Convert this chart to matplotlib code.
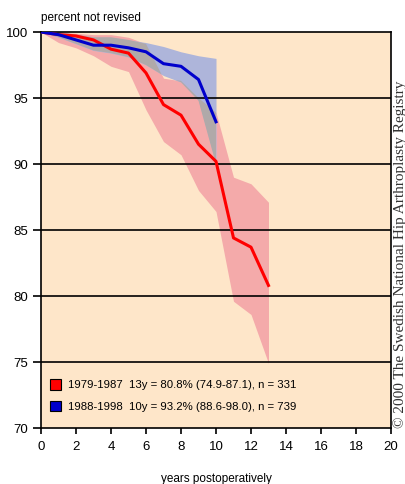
import matplotlib
matplotlib.use("Agg")
import matplotlib.pyplot as plt
from matplotlib.patches import Patch
import numpy as np

plt.rcParams["font.family"] = ["Liberation Sans", "DejaVu Sans"]

# data
years_a = [0, 1, 2, 3, 4, 5, 6, 7, 8, 9, 10, 11, 12, 13]
surv_a = [100, 99.8, 99.7, 99.4, 98.7, 98.4, 96.9, 94.5, 93.7, 91.5, 90.2, 84.4, 83.7, 80.8]
lo_a = [100, 99.2, 98.8, 98.2, 97.4, 97.0, 94.1, 91.7, 90.7, 88.0, 86.4, 79.6, 78.6, 74.9]
hi_a = [100, 100, 99.9, 99.8, 99.8, 99.6, 99.1, 96.5, 96.3, 95.0, 93.9, 89.0, 88.5, 87.1]

years_b = [0, 1, 2, 3, 4, 5, 6, 7, 8, 9, 10]
surv_b = [100, 99.8, 99.4, 99.0, 99.0, 98.8, 98.5, 97.6, 97.4, 96.4, 93.2]
lo_b = [100, 99.6, 99.1, 98.6, 98.4, 98.1, 97.5, 96.7, 96.2, 94.8, 90.0]
hi_b = [100, 100, 99.8, 99.6, 99.6, 99.4, 99.2, 98.9, 98.5, 98.2, 98.0]

labels = ["1979-1987  13y = 80.8% (74.9-87.1), n = 331",
          "1988-1998  10y = 93.2% (88.6-98.0), n = 739"]

peach = "#fee6c9"
pink = "#f4aaaa"
lblue = "#aeb5da"
grey = "#b0a9a9"

fig = plt.figure(figsize=(4.06, 4.84), dpi=100)
ax = fig.add_axes([41/406, (484-428)/484, 350/406, 396/484])
ax.set_facecolor(peach)

ax.fill_between(years_a, lo_a, hi_a, color=pink, lw=0, zorder=1)
ax.fill_between(years_b, lo_b, hi_b, color=lblue, lw=0, zorder=1)
# overlap of the two bands
n = len(years_b)
ov_lo = np.maximum(lo_a[:n], lo_b)
ov_hi = np.minimum(hi_a[:n], hi_b)
ax.fill_between(years_b, ov_lo, ov_hi, where=ov_hi >= ov_lo, interpolate=True,
                color=grey, lw=0, zorder=2)

for yv in [75, 80, 85, 90, 95]:
    ax.axhline(yv, color="black", lw=1.2, zorder=3)

ax.plot(years_a, surv_a, color="#ff0000", lw=2.2, zorder=4)
ax.plot(years_b, surv_b, color="#0000cc", lw=2.2, zorder=4)

ax.set_xlim(0, 20)
ax.set_ylim(70, 100)
ax.set_xticks(range(0, 21, 2))
ax.set_yticks(range(70, 101, 5))
ax.tick_params(axis="y", direction="out", length=6, width=1.2, pad=3, labelsize=9.5)
ax.tick_params(axis="x", direction="out", length=4.5, width=1.2, pad=5, labelsize=9.5)
for s in ax.spines.values():
    s.set_linewidth(1.2)

ax.text(0, 100.6, "percent not revised", fontsize=8.5, ha="left", va="bottom")
ax.set_xlabel("years postoperatively", fontsize=8.5, labelpad=14)

handles = [Patch(facecolor="#ff0000", edgecolor="black", lw=0.8),
           Patch(facecolor="#0000cc", edgecolor="black", lw=0.8)]
ax.legend(handles, labels, loc="lower left", frameon=False, fontsize=8.2,
          handlelength=1.0, handleheight=1.0, handletextpad=0.55,
          labelspacing=0.95, borderpad=0, borderaxespad=0,
          bbox_to_anchor=(0.026, 0.04))

fig.text(0.985, 0.475, "\u00a9 2000 The Swedish National Hip Arthroplasty Registry",
         rotation=90, fontsize=11, family="Liberation Serif", color="#333333",
         ha="center", va="center")

fig.savefig("out.png", dpi=100)
